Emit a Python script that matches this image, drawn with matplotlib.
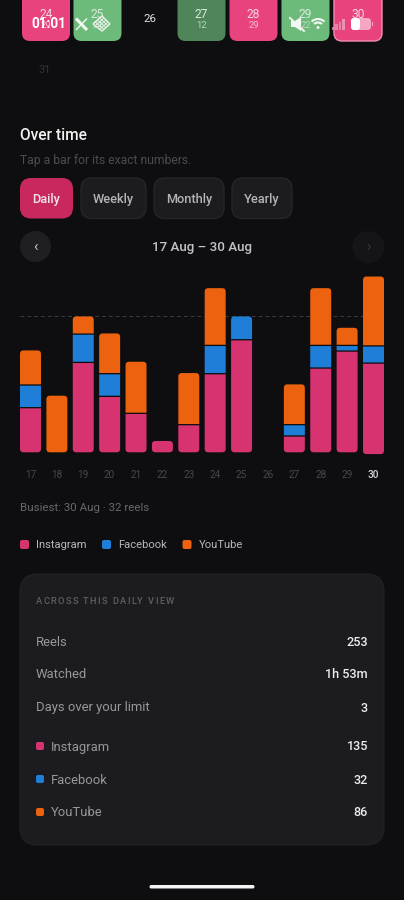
"""Daily reels screen: calendar strip, stacked bars per day and the summary card."""
import matplotlib
matplotlib.use("Agg")
import matplotlib.pyplot as plt
import numpy as np
from matplotlib.patches import Arc, Circle, FancyBboxPatch, PathPatch, Polygon, Rectangle
from matplotlib.path import Path

plt.rcParams["font.family"] = ["Roboto", "DejaVu Sans"]

# ---------- data ----------
days = ["17", "18", "19", "20", "21", "22", "23", "24", "25", "26", "27", "28", "29", "30"]
instagram = [8, 0, 16, 10, 7, 2, 5, 14, 20, 0, 3, 15, 18, 16]
facebook = [4, 0, 5, 4, 0, 0, 0, 5, 4, 0, 2, 4, 1, 3]
youtube = [6, 10, 3, 7, 9, 0, 9, 10, 0, 0, 7, 10, 3, 12]
daily_limit = 24

tabs = ["Daily", "Weekly", "Monthly", "Yearly"]
legend_labels = ["Instagram", "Facebook", "YouTube"]
summary_labels = ["Reels", "Watched", "Days over your limit"]
summary_values = ["253", "1h 53m", "3"]
source_values = ["135", "32", "86"]

cal_days = ["24", "25", "27", "28", "29", "30"]
cal_counts = ["29", "24", "12", "29", "22", "32"]

BG = "#0e0e10"
CARD = "#1c1c20"
PINK = "#d63370"
BLUE = "#1f7fd8"
ORANGE = "#ec620f"
COLORS = [PINK, BLUE, ORANGE]

fig = plt.figure(figsize=(4.04, 9.0), dpi=100, facecolor=BG)
ui = fig.add_axes([0, 0, 1, 1])
ui.set_xlim(0, 404)
ui.set_ylim(900, 0)
ui.axis("off")


def px(size):
    return size * 0.72


def box(x0, y0, x1, y1, r, fc, ec="none", lw=0, z=1, **kw):
    p = FancyBboxPatch((x0 + r, y0 + r), x1 - x0 - 2 * r, y1 - y0 - 2 * r,
                       boxstyle=f"round,pad={r},rounding_size={r}",
                       fc=fc, ec=ec, lw=lw, zorder=z, **kw)
    ui.add_patch(p)
    return p


def label(x, y, s, size, color, weight="normal", ha="left", z=5):
    # va=center sits about a pixel high for these fonts
    return ui.text(x, y + 1, s, fontsize=px(size), color=color, fontweight=weight,
                   ha=ha, va="center", zorder=z)


def spaced(x, y, s, size, color, spacing):
    # no letter spacing in matplotlib, so place the glyphs one at a time
    r = fig.canvas.get_renderer()
    for ch in s:
        t = label(x, y, ch, size, color, weight="medium")
        w = t.get_window_extent(r).width if ch != " " else size * 0.25
        x += w + spacing


def rounded_path(x0, y_top, x1, y_bot, rt, rb):
    # y grows downward here, corners only where the stack ends
    verts = [(x0, y_bot - rb), (x0, y_top + rt), (x0, y_top), (x0 + rt, y_top),
             (x1 - rt, y_top), (x1, y_top), (x1, y_top + rt),
             (x1, y_bot - rb), (x1, y_bot), (x1 - rb, y_bot),
             (x0 + rb, y_bot), (x0, y_bot), (x0, y_bot - rb), (x0, y_bot - rb)]
    codes = [Path.MOVETO, Path.LINETO, Path.CURVE3, Path.CURVE3,
             Path.LINETO, Path.CURVE3, Path.CURVE3,
             Path.LINETO, Path.CURVE3, Path.CURVE3,
             Path.LINETO, Path.CURVE3, Path.CURVE3, Path.CLOSEPOLY]
    return Path(verts, codes)


# ---------- calendar strip + status bar ----------
cell_x = [22, 73.5, 177.5, 229.5, 281.5, 334]
cell_col = ["#e8437f", "#6dbb7a", "#4f8558", "#e8437f", "#6dbb7a", "#e8437f"]
for i, (x, c) in enumerate(zip(cell_x, cell_col)):
    ec = "#f48bb0" if i == 5 else "none"
    box(x, -12, x + 48, 41, 8, c, ec=ec, lw=1 if i == 5 else 0)
    label(x + 24, 13, cal_days[i], 12, "#f8d5e2" if c == "#e8437f" else "#d8ecdc", ha="center")
    label(x + 24, 25, cal_counts[i], 9.5, "#f5bcd1" if c == "#e8437f" else "#b5d8bc", ha="center")
label(149.5, 18, "26", 11.5, "#e0e0e0", ha="center")
label(45, 69, "31", 11, "#333336", ha="center")

label(48.5, 22.5, "01:01", 13.5, "white", weight="bold", ha="center", z=8)
# X logo
ui.plot([76, 87], [18.5, 30], color="#f2f7f2", lw=2.2, solid_capstyle="butt", zorder=8)
ui.plot([87, 76], [18.5, 30], color="#f2f7f2", lw=1.0, solid_capstyle="butt", zorder=8)
# notification glyph
n_, e_, s_, w_ = np.array([102, 16]), np.array([110, 24]), np.array([102, 31]), np.array([93, 24])
ui.add_patch(Polygon([n_, e_, s_, w_], closed=True, fc="none", ec="#e8f3e8", lw=1.0, zorder=8))
for f in [0.25, 0.5, 0.75]:
    a, b = n_ + (e_ - n_) * f, w_ + (s_ - w_) * f
    ui.plot([a[0], b[0]], [a[1], b[1]], color="#e8f3e8", lw=0.7, zorder=8)
    a, b = n_ + (w_ - n_) * f, e_ + (s_ - e_) * f
    ui.plot([a[0], b[0]], [a[1], b[1]], color="#e8f3e8", lw=0.7, zorder=8)
# mute
ui.add_patch(Polygon([[291, 21], [295, 21], [301, 17], [301, 31], [295, 27], [291, 27]], closed=True, fc="#f2f7f2", zorder=8))
ui.plot([290, 304], [18, 31], color="#f2f7f2", lw=1.4, zorder=9)
# wifi
for d, lw in [(18, 1.5), (11, 1.5)]:
    ui.add_patch(Arc((318, 28), d, d, theta1=225, theta2=315, ec="#f5f8f5", lw=lw, zorder=8))
ui.add_patch(Circle((318, 27.5), 1.5, fc="#f5f8f5", zorder=8))
# signal
for k, h in enumerate([3, 6, 8, 11]):
    ui.add_patch(Rectangle((331.5 + k * 3.6, 29.5 - h), 2.4, h, fc="#d8a0b0" if k < 3 else "#f0a9c2", alpha=0.75, zorder=8))
# battery
box(351, 18, 371, 30, 3.5, "#f4a6c3", z=8)
box(351, 18, 360, 30, 3, "white", z=9)
ui.add_patch(Rectangle((371.5, 22), 1.5, 4, fc="#f4a6c3", zorder=8))

# ---------- heading, tabs, nav ----------
label(20, 135, "Over time", 15.5, "#f2f2f2", weight="medium")
label(20, 159.5, "Tap a bar for its exact numbers.", 12.1, "#4c4c50")

tab_x = [(20, 73), (81, 146), (154, 224), (232, 292)]
for i, (name, (x0, x1)) in enumerate(zip(tabs, tab_x)):
    if i == 0:
        box(x0, 178, x1, 218.5, 11, "#c9285f")
    else:
        box(x0, 178, x1, 218.5, 11, CARD, ec="#262629", lw=1)
    label((x0 + x1) / 2, 198, name, 12.7, "#f5e3ea" if i == 0 else "#b4b4b8", weight="medium", ha="center")

ui.add_patch(Circle((35.5, 246.5), 15.5, fc="#1f1f22", zorder=1))
ui.add_patch(Circle((368.5, 247), 16, fc="#151517", zorder=1))
label(35.5, 246, "‹", 15, "#c8c8cc", ha="center")
label(368.5, 246, "›", 15, "#38383c", ha="center")
label(202, 246.5, "17 Aug – 30 Aug", 13.4, "#c4c4c8", weight="medium", ha="center")

# ---------- stacked bars ----------
PX_PER_REEL = 5.66
BASE_Y = 452.3
TOP_Y = 270
spacing = 26.4
half = 10.5 / spacing
ax = fig.add_axes([20 / 404, 1 - BASE_Y / 900, 364 / 404, (BASE_Y - TOP_Y) / 900], facecolor="none")
ax.set_xlim(-half, 13 + half)
ax.set_ylim(0, (BASE_Y - TOP_Y) / PX_PER_REEL)
for s in ax.spines.values():
    s.set_visible(False)
ax.set_yticks([])
ax.set_xticks(np.arange(len(days)))
ax.set_xticklabels(days, fontsize=px(10), color="#48484c")
ax.tick_params(axis="x", length=0, pad=12.5)
ax.get_xticklabels()[-1].set_color("#d8d8dc")
ax.get_xticklabels()[-1].set_fontweight("medium")
ax.axhline(daily_limit, color="#3c3c40", lw=0.7, ls=(0, (4, 3)), zorder=1)

gap = 1.3 / PX_PER_REEL
drop = 1.8 / PX_PER_REEL  # selected bar sits slightly lower and runs a bit taller
sel_grow = 1.012
to_ui = ax.transData + ui.transData.inverted()
for i in range(len(days)):
    segs = [instagram[i], facebook[i], youtube[i]]
    if sum(segs) == 0:
        continue
    selected = i == len(days) - 1
    scale = sel_grow if selected else 1.0
    live = [k for k, v in enumerate(segs) if v > 0]
    pos = -drop if selected else 0.0
    for k in live:
        v = segs[k] * scale
        h = v - (gap if k != live[-1] else 0)
        b = ax.bar(i, h, bottom=pos, width=0.795, color=COLORS[k], zorder=3)[0]
        # swap the plain rectangle for one with rounded stack ends
        (x0, y_bot), (x1, y_top) = to_ui.transform(
            [(b.get_x(), b.get_y()), (b.get_x() + b.get_width(), b.get_y() + b.get_height())])
        rb = 3.5 if k == live[0] else 0
        rt = 3.5 if k == live[-1] else 0
        b.set_visible(False)
        ax.add_patch(PathPatch(rounded_path(x0, y_top, x1, y_bot, rt, rb), fc=COLORS[k], ec="none",
                               transform=ui.transData, zorder=3, clip_on=False))
        pos += v

label(20, 507, "Busiest: 30 Aug · 32 reels", 11.5, "#68686c")

# ---------- legend ----------
leg_x = [20, 102, 182.5]
for x, name, c in zip(leg_x, legend_labels, COLORS):
    box(x, 540, x + 9, 549, 2, c)
    label(x + 16, 544, name, 11.2, "#b8b8bc")

# ---------- summary card ----------
box(20, 574, 384, 845, 18, CARD, ec="#222226", lw=0.8)
spaced(36, 601, "ACROSS THIS DAILY VIEW", 9.3, "#606064", 1.35)
for y, name, val in zip([641, 674, 707], summary_labels, summary_values):
    label(36, y, name, 13, "#98989c")
    label(368, y, val, 12.6, "#ececec", weight="medium", ha="right")
for y, name, val, c in zip([746, 779, 812], legend_labels, source_values, COLORS):
    box(36, y - 4, 44, y + 4, 2, c)
    label(51, y, name, 13, "#98989c")
    label(368, y, val, 12.6, "#ececec", weight="medium", ha="right")

box(149.5, 885, 254.5, 888.5, 1.7, "#f4f4f4")

fig.savefig("out.png", dpi=100, facecolor=BG)
